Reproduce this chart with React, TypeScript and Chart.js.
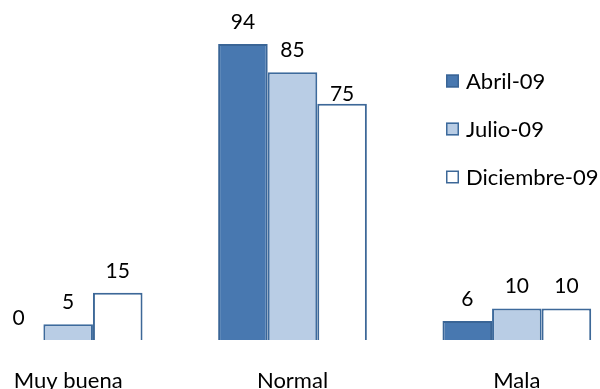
import React, { useEffect, useRef } from "react";
import { Chart, registerables } from "chart.js";

Chart.register(...registerables);

const categories = ["Muy buena", "Normal", "Mala"];
const seriesNames = ["Abril-09", "Julio-09", "Diciembre-09"];
const abril = [0, 94, 6];
const julio = [5, 85, 10];
const diciembre = [15, 75, 10];

const FONT = "Lato, 'Open Sans', sans-serif";
const fills = ["#4878B0", "#B9CDE5", "#FFFFFF"];
const edges = ["#3A6596", "#3D6A9C", "#3D6898"];

// value labels above every bar; one label sits closer to its bar
const valueLabels = {
  id: "valueLabels",
  afterDatasetsDraw(chart: any, _args: any, opts: any) {
    const ctx = chart.ctx;
    ctx.save();
    ctx.font = `21px ${FONT}`;
    ctx.fillStyle = "#000";
    ctx.textAlign = "center";
    ctx.textBaseline = "middle";
    chart.data.datasets.forEach((ds: any, di: number) => {
      const meta = chart.getDatasetMeta(di);
      meta.data.forEach((bar: any, i: number) => {
        const lift = opts.lifts?.[`${di}:${i}`] ?? opts.lift;
        ctx.fillText(String(ds.data[i]), bar.x, bar.y - lift);
      });
    });
    ctx.restore();
  },
};

// legend stacked on the right, drawn over the plot
const sideLegend = {
  id: "sideLegend",
  afterDraw(chart: any, _args: any, opts: any) {
    const ctx = chart.ctx;
    ctx.save();
    ctx.font = `22px ${FONT}`;
    ctx.textBaseline = "middle";
    ctx.textAlign = "left";
    chart.data.datasets.forEach((ds: any, i: number) => {
      const cy = opts.y + i * opts.gap;
      ctx.fillStyle = ds.backgroundColor;
      ctx.fillRect(opts.x, cy - 6.5, 13, 13);
      ctx.strokeStyle = ds.borderColor;
      ctx.lineWidth = 1.5;
      ctx.strokeRect(opts.x + 0.75, cy - 5.75, 11.5, 11.5);
      ctx.fillStyle = "#000";
      ctx.fillText(ds.label, opts.x + 20, cy + 1);
    });
    ctx.restore();
  },
};

export default function App() {
  const ref = useRef<HTMLCanvasElement>(null);

  useEffect(() => {
    const values = [abril, julio, diciembre];
    const chart = new Chart(ref.current!, {
      type: "bar",
      data: {
        labels: categories,
        datasets: seriesNames.map((name, i) => ({
          label: name,
          data: values[i],
          backgroundColor: fills[i],
          borderColor: edges[i],
          borderWidth: 2,
          categoryPercentage: 0.663,
          barPercentage: 1,
        })),
      },
      options: {
        animation: false,
        responsive: false,
        devicePixelRatio: 1,
        layout: { padding: { top: 25, left: 0, right: 0, bottom: 0 } },
        scales: {
          x: {
            grid: { display: false, drawTicks: false },
            border: { display: false },
            ticks: {
              color: "#000",
              padding: 29,
              font: { family: FONT, size: 22, lineHeight: 1.0909 },
            },
          },
          y: { display: false, min: 0, max: 100 },
        },
        plugins: {
          legend: { display: false },
          tooltip: { enabled: false },
          valueLabels: { lift: 22, lifts: { "2:1": 10 } },
          sideLegend: { x: 490, y: 81, gap: 48 },
        } as any,
      },
      plugins: [valueLabels, sideLegend],
    });
    return () => chart.destroy();
  }, []);

  return (
    <div
      style={{
        position: "fixed",
        left: 0,
        top: 0,
        width: 600,
        height: 389,
        overflow: "hidden",
        background: "#fff",
      }}
    >
      <canvas
        ref={ref}
        width={673}
        height={422}
        style={{ position: "absolute", left: -44, top: 0 }}
      />
    </div>
  );
}
